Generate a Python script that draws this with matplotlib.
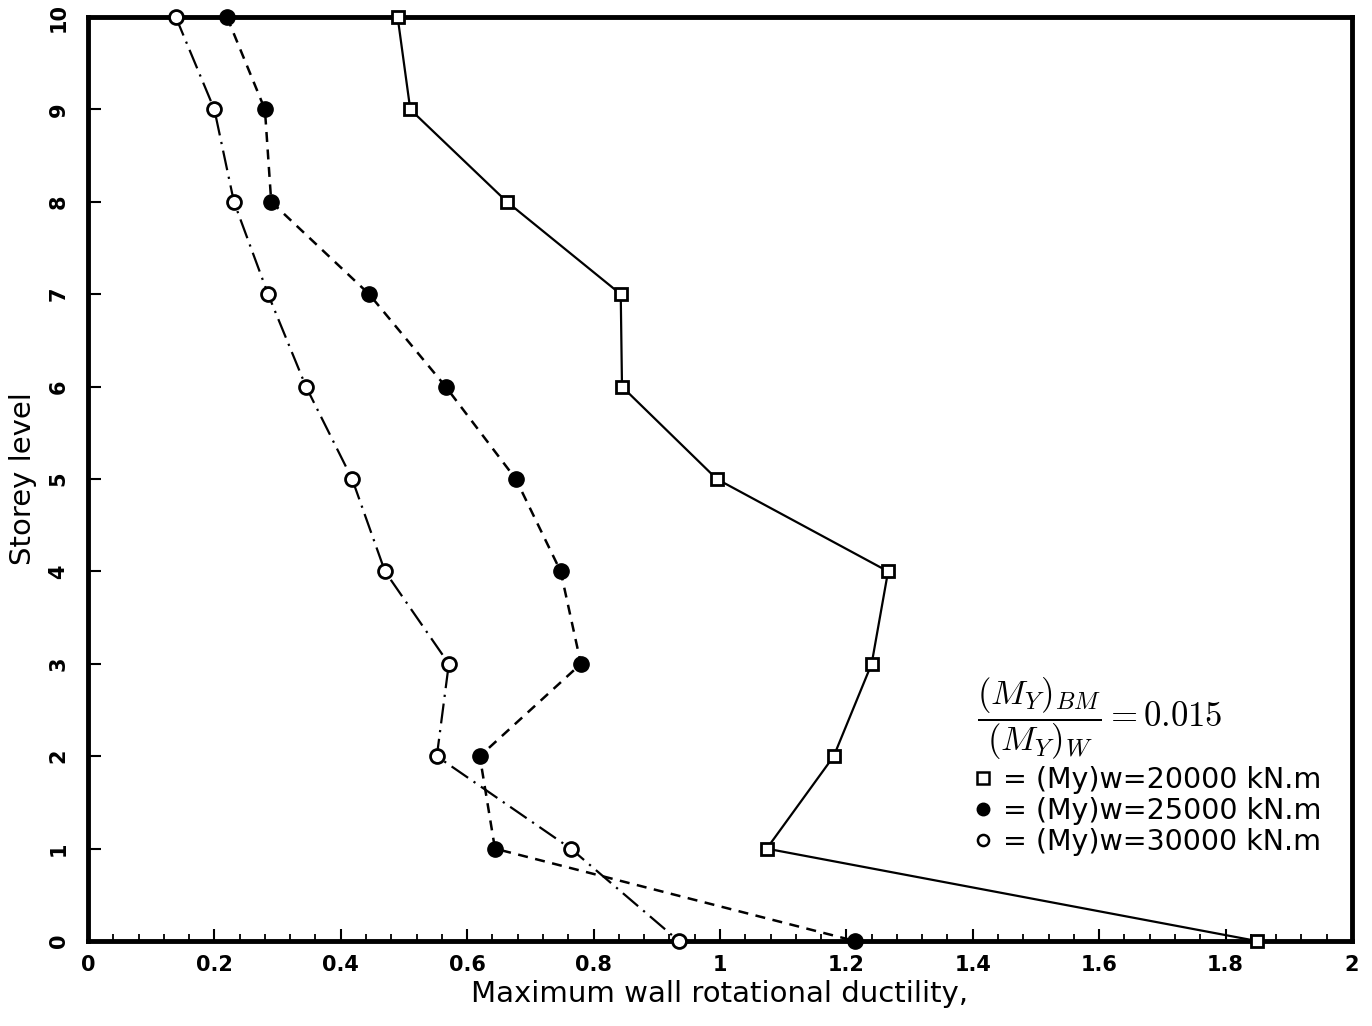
import matplotlib.pyplot as plt
from matplotlib.ticker import MultipleLocator
from matplotlib.lines import Line2D

storey = [10, 9, 8, 7, 6, 5, 4, 3, 2, 1, 0]
duct_20000 = [0.49, 0.51, 0.663, 0.843, 0.845, 0.995, 1.266, 1.24, 1.18, 1.074, 1.85]
duct_25000 = [0.22, 0.28, 0.29, 0.445, 0.566, 0.677, 0.748, 0.78, 0.62, 0.644, 1.214]
duct_30000 = [0.139, 0.20, 0.231, 0.285, 0.345, 0.418, 0.47, 0.571, 0.552, 0.764, 0.935]

labels = ['= (My)w=20000 kN.m', '= (My)w=25000 kN.m', '= (My)w=30000 kN.m']

plt.rcParams['font.family'] = 'DejaVu Sans'
fig = plt.figure(figsize=(13.72, 10.26), dpi=100)
ax = fig.add_axes([0.0641, 0.0828, 0.9213, 0.9006])

ax.plot(duct_20000, storey, color='black', lw=1.6, ls='-', marker='s', ms=9,
        mfc='white', mec='black', mew=2, clip_on=False, zorder=5)
ax.plot(duct_25000, storey, color='black', lw=1.8, ls=(0, (4, 3)), marker='o', ms=11,
        mfc='black', mec='black', clip_on=False, zorder=5)
ax.plot(duct_30000, storey, color='black', lw=1.6, ls=(0, (9, 3, 1, 3)), marker='o', ms=10,
        mfc='white', mec='black', mew=2, clip_on=False, zorder=5)

ax.set_xlim(0, 2)
ax.set_ylim(0, 10)
ax.xaxis.set_major_locator(MultipleLocator(0.2))
ax.xaxis.set_minor_locator(MultipleLocator(0.04))
ax.yaxis.set_major_locator(MultipleLocator(1))
ax.xaxis.set_major_formatter(plt.FuncFormatter(lambda v, p: ('%g' % round(v, 2))))
ax.tick_params(axis='x', which='major', direction='in', length=9, width=1.5, pad=10,
               labelsize=15, top=False)
ax.tick_params(axis='x', which='minor', direction='in', length=5, width=1.3, top=False)
ax.tick_params(axis='y', which='major', direction='in', length=9, width=1.5, pad=14,
               labelsize=15, labelrotation=90, right=False)
for lab in ax.get_xticklabels() + ax.get_yticklabels():
    lab.set_fontweight('bold')
for lab in ax.get_yticklabels():
    lab.set_va('center')

for sp in ax.spines.values():
    sp.set_linewidth(3.5)

ax.set_xlabel('Maximum wall rotational ductility,', fontsize=21, labelpad=4)
ax.set_ylabel('Storey level', fontsize=21, labelpad=8)

ax.text(0.703, 0.241, r'$\dfrac{(M_Y)_{BM}}{(M_Y)_W} = 0.015$', transform=ax.transAxes,
        fontsize=25, math_fontfamily='cm', ha='left', va='center')

handles = [
    Line2D([], [], ls='none', marker='s', ms=8, mfc='white', mec='black', mew=1.8),
    Line2D([], [], ls='none', marker='o', ms=9, mfc='black', mec='black'),
    Line2D([], [], ls='none', marker='o', ms=8, mfc='white', mec='black', mew=1.8),
]
ax.legend(handles, labels, loc='upper left', bbox_to_anchor=(0.69, 0.205),
          frameon=False, fontsize=20.5, handlelength=0.6, handletextpad=0.4,
          labelspacing=0.1, borderpad=0)

fig.savefig('out.png', dpi=100)
